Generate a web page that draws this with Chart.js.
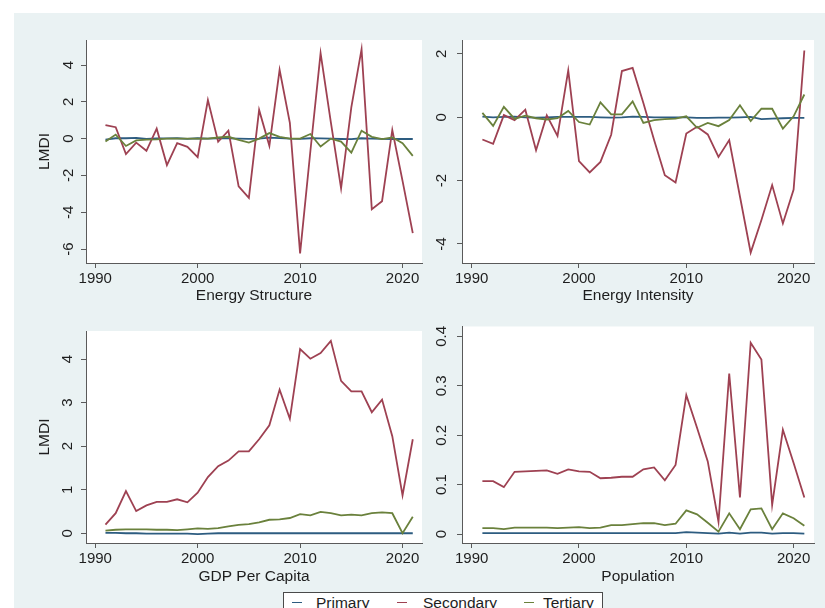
<!DOCTYPE html>
<html>
<head>
<meta charset="utf-8">
<title>LMDI decomposition by sector</title>
<script src="https://cdn.jsdelivr.net/npm/chart.js@4.4.1/dist/chart.umd.min.js"></script>
<style>
  html, body { margin: 0; padding: 0; width: 825px; height: 608px; overflow: hidden; background: #ffffff; }
  body { position: relative; font-family: "Liberation Sans", Arial, Helvetica, sans-serif; }
  #graph { position: absolute; left: 14px; top: 13px; width: 811px; height: 595px; background: #eaf2f3; }
  canvas { position: absolute; }
  #legend { position: absolute; left: 283px; top: 592px; width: 320px; height: 26px; border: 1px solid #4a4a4a; background: #ffffff; box-sizing: border-box; }
  .key { position: absolute; top: 9px; width: 10px; height: 0; border-top: 1.6px solid; }
  .lab { position: absolute; top: 1px; font-size: 15.5px; line-height: 18px; color: #1e1e1e; white-space: nowrap; }
</style>
</head>
<body>
<div id="graph"></div>
<canvas id="pStructure" width="420" height="300" style="left:14px;top:13px"></canvas>
<canvas id="pIntensity" width="391" height="300" style="left:434px;top:13px"></canvas>
<canvas id="pGdp" width="420" height="295" style="left:14px;top:313px"></canvas>
<canvas id="pPopulation" width="391" height="295" style="left:434px;top:313px"></canvas>
<div id="legend"></div>
<script>
// Years covered by the decomposition
const years = [1991, 1992, 1993, 1994, 1995, 1996, 1997, 1998, 1999, 2000,
               2001, 2002, 2003, 2004, 2005, 2006, 2007, 2008, 2009, 2010,
               2011, 2012, 2013, 2014, 2015, 2016, 2017, 2018, 2019, 2020, 2021];
const yearTicks = [1990, 2000, 2010, 2020];

const sectorNames = ["Primary", "Secondary", "Tertiary"];
const sectorColors = ["#2d5c80", "#9e4152", "#6a813c"];

// Energy structure effect
const structurePrimary = [-0.05, 0.02, 0.02, 0.04, -0.02, 0.01, 0.01, 0.02, -0.01, 0.02,
                          0, 0.02, 0.01, 0, -0.01, 0, 0.05, 0.03, 0, -0.01,
                          0.02, 0.01, 0, -0.02, -0.03, 0.02, 0, -0.01, -0.02, -0.01, -0.02];
const structureSecondary = [0.74, 0.62, -0.84, -0.22, -0.66, 0.54, -1.44, -0.25, -0.45, -1.01,
                            2.1, -0.17, 0.43, -2.6, -3.22, 1.56, -0.39, 3.74, 0.86, -6.24,
                            -0.7, 4.65, 0.9, -2.7, 1.7, 4.86, -3.84, -3.4, 0.47, -2.3, -5.14];
const structureTertiary = [-0.16, 0.22, -0.4, -0.1, -0.05, -0.04, 0, 0, 0, 0,
                           0, 0.06, 0.1, -0.07, -0.22, 0, 0.3, 0.1, 0, 0,
                           0.25, -0.43, 0, -0.16, -0.76, 0.43, 0.1, -0.03, 0.07, -0.25, -0.94];
const structureTicks = [-6, -4, -2, 0, 2, 4];

// Energy intensity effect
const intensityPrimary = [0.02, 0, 0.01, 0.02, 0, -0.01, 0, 0.01, 0.01, 0.01,
                          0.01, 0, -0.01, 0, 0.02, 0.01, 0, 0, 0, 0,
                          -0.02, -0.02, -0.01, -0.01, 0, 0.01, -0.06, -0.04, -0.03, -0.02, -0.02];
const intensitySecondary = [-0.7, -0.84, 0.07, -0.09, 0.24, -1.04, 0.06, -0.59, 1.48, -1.38,
                            -1.74, -1.41, -0.55, 1.46, 1.56, 0.45, -0.72, -1.83, -2.06, -0.51,
                            -0.3, -0.54, -1.25, -0.72, -2.5, -4.27, -3.24, -2.14, -3.35, -2.28, 2.11];
const intensityTertiary = [0.14, -0.27, 0.33, -0.05, 0.05, -0.03, -0.07, -0.03, 0.2, -0.15,
                           -0.23, 0.47, 0.09, 0.09, 0.5, -0.18, -0.09, -0.06, -0.04, 0.03,
                           -0.33, -0.18, -0.28, -0.09, 0.38, -0.12, 0.27, 0.27, -0.36, 0.03, 0.72];
const intensityTicks = [-4, -2, 0, 2];

// Economic output (GDP per capita) effect
const gdpPrimary = [0.01, 0.01, 0, 0, -0.01, -0.01, -0.01, -0.01, -0.01, -0.02,
                    -0.01, 0, 0, 0, 0, 0, 0, 0, 0, 0,
                    0, 0, 0, 0, 0, 0, 0, 0, 0, 0, 0];
const gdpSecondary = [0.2, 0.46, 0.97, 0.51, 0.64, 0.72, 0.72, 0.78, 0.71, 0.93,
                      1.29, 1.54, 1.67, 1.88, 1.88, 2.16, 2.48, 3.3, 2.63, 4.23,
                      4.01, 4.14, 4.42, 3.5, 3.26, 3.26, 2.78, 3.07, 2.23, 0.87, 2.16];
const gdpTertiary = [0.06, 0.08, 0.09, 0.09, 0.09, 0.08, 0.08, 0.07, 0.09, 0.11,
                     0.1, 0.12, 0.16, 0.19, 0.21, 0.25, 0.31, 0.32, 0.35, 0.44,
                     0.41, 0.49, 0.46, 0.41, 0.43, 0.41, 0.46, 0.48, 0.46, 0, 0.38];
const gdpTicks = [0, 1, 2, 3, 4];

// Population effect
const populationPrimary = [0.002, 0.002, 0.002, 0.002, 0.002, 0.002, 0.002, 0.002, 0.002, 0.002,
                           0.002, 0.002, 0.002, 0.002, 0.002, 0.002, 0.002, 0.002, 0.002, 0.004,
                           0.003, 0.002, 0.001, 0.003, 0.001, 0.003, 0.003, 0.001, 0.002, 0.002, 0.001];
const populationSecondary = [0.107, 0.107, 0.095, 0.126, 0.127, 0.128, 0.129, 0.122, 0.131, 0.127,
                             0.126, 0.113, 0.114, 0.116, 0.116, 0.131, 0.135, 0.109, 0.14, 0.281,
                             0.215, 0.147, 0.025, 0.325, 0.074, 0.387, 0.353, 0.059, 0.211, 0.144, 0.074];
const populationTertiary = [0.012, 0.012, 0.01, 0.013, 0.013, 0.013, 0.013, 0.012, 0.013, 0.014,
                            0.012, 0.013, 0.018, 0.018, 0.02, 0.022, 0.022, 0.018, 0.021, 0.048,
                            0.04, 0.023, 0.005, 0.042, 0.01, 0.05, 0.052, 0.01, 0.042, 0.032, 0.017];
const populationTicks = [0, 0.1, 0.2, 0.3, 0.4];

const FONT = '"Liberation Sans", Arial, Helvetica, sans-serif';
const AXIS = '#5a5a5a';
const TEXT = '#1e1e1e';

// White plot region behind the lines
const plotRegion = {
  id: 'plotRegion',
  beforeDraw(chart) {
    const { ctx, chartArea: a } = chart;
    ctx.save();
    ctx.fillStyle = '#ffffff';
    ctx.fillRect(a.left, a.top, a.right - a.left, a.bottom - a.top);
    ctx.restore();
  }
};

function panel(id, series, xTitle, yTitle, yTicks, yRange, box) {
  const datasets = series.map((vals, i) => ({
    label: sectorNames[i],
    data: years.map((yr, k) => ({ x: yr, y: vals[k] })),
    borderColor: sectorColors[i],
    borderWidth: 1.8,
    pointRadius: 0,
    tension: 0,
    fill: false,
    order: 2 - i
  }));
  return new Chart(document.getElementById(id), {
    type: 'line',
    data: { datasets },
    plugins: [plotRegion],
    options: {
      responsive: false,
      animation: false,
      devicePixelRatio: 1,
      layout: { padding: { left: 0, right: box.right, top: box.top, bottom: 0 } },
      plugins: { legend: { display: false }, tooltip: { enabled: false } },
      scales: {
        x: {
          type: 'linear',
          min: 1989.1,
          max: 2021.9,
          afterBuildTicks: s => { s.ticks = yearTicks.map(v => ({ value: v })); },
          afterFit: s => { s.height = box.xh; },
          grid: { drawOnChartArea: false, drawTicks: true, tickLength: 5, color: AXIS, lineWidth: 1 },
          border: { display: true, color: AXIS, width: 1 },
          ticks: { color: TEXT, font: { family: FONT, size: 15 }, padding: 2, maxRotation: 0, autoSkip: false,
                   callback: v => String(v) },
          title: { display: true, text: xTitle, color: TEXT, font: { family: FONT, size: 15.5 },
                   padding: { top: 0, bottom: box.xtb } }
        },
        y: {
          type: 'linear',
          min: yRange[0],
          max: yRange[1],
          afterBuildTicks: s => { s.ticks = yTicks.map(v => ({ value: v })); },
          afterFit: s => { s.width = box.yw; },
          grid: { drawOnChartArea: false, drawTicks: true, tickLength: 5, color: AXIS, lineWidth: 1 },
          border: { display: true, color: AXIS, width: 1 },
          ticks: { color: TEXT, font: { family: FONT, size: 15 }, padding: box.yp, minRotation: 90, maxRotation: 90,
                   crossAlign: 'center', autoSkip: false, callback: v => String(v) },
          title: { display: !!yTitle, text: yTitle, color: TEXT, font: { family: FONT, size: 15.5 },
                   padding: { top: 21, bottom: 0 } }
        }
      }
    }
  });
}

panel('pStructure', [structurePrimary, structureSecondary, structureTertiary],
      'Energy Structure', 'LMDI', structureTicks, [-6.76, 5.36],
      { right: 12, top: 27, xh: 50, xtb: 8, yw: 72, yp: 5 });
panel('pIntensity', [intensityPrimary, intensitySecondary, intensityTertiary],
      'Energy Intensity', '', intensityTicks, [-4.6, 2.44],
      { right: 11, top: 27, xh: 50, xtb: 8, yw: 28, yp: 8 });
panel('pGdp', [gdpPrimary, gdpSecondary, gdpTertiary],
      'GDP Per Capita', 'LMDI', gdpTicks, [-0.224, 4.646],
      { right: 12, top: 6, xh: 65, xtb: 22, yw: 72, yp: 9 });
panel('pPopulation', [populationPrimary, populationSecondary, populationTertiary],
      'Population', '', populationTicks, [-0.018, 0.42],
      { right: 11, top: 6, xh: 65, xtb: 22, yw: 28, yp: 4.5 });

// Shared legend below the panels
const legend = document.getElementById('legend');
const keyLeft = [8, 113, 240];
const labLeft = [32, 139, 259];
sectorNames.forEach((name, i) => {
  const k = document.createElement('div');
  k.className = 'key';
  k.style.left = keyLeft[i] + 'px';
  k.style.borderTopColor = sectorColors[i];
  legend.appendChild(k);
  const t = document.createElement('div');
  t.className = 'lab';
  t.style.left = labLeft[i] + 'px';
  t.textContent = name;
  legend.appendChild(t);
});
</script>
</body>
</html>
